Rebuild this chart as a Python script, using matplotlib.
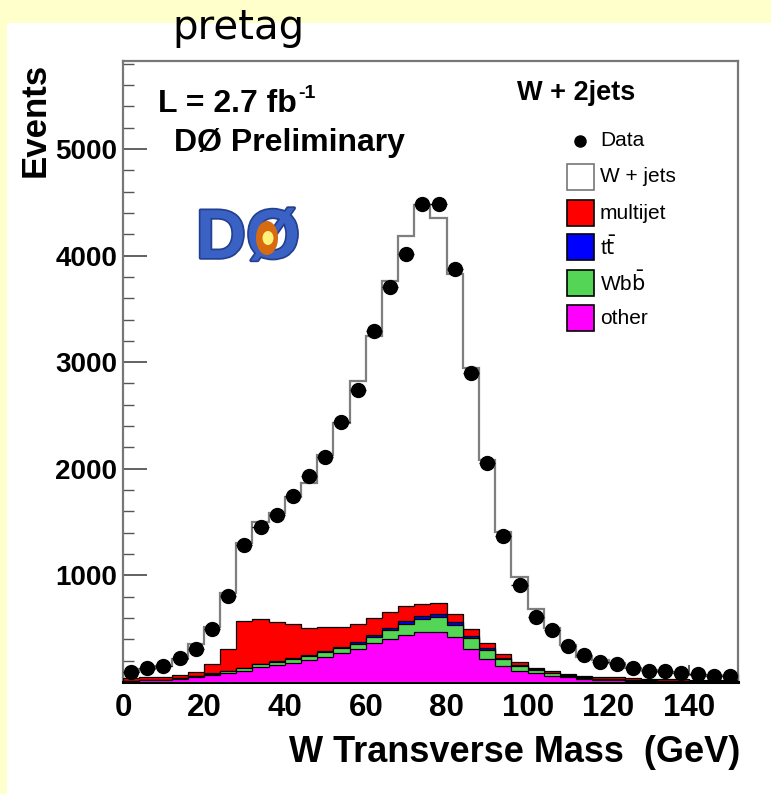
import numpy as np
import matplotlib
matplotlib.use("Agg")
import matplotlib.pyplot as plt
from matplotlib.patches import Rectangle, Ellipse
import matplotlib.patheffects as pe

# 4 GeV bins from 0 to 152 GeV
bin_edges = np.arange(0, 153, 4)

data_counts = [97, 134, 150, 222, 312, 497, 810, 1285, 1454, 1567, 1745, 1932, 2110,
               2439, 2739, 3290, 3708, 4012, 4484, 4484, 3872, 2900, 2054, 1370, 912,
               608, 488, 341, 256, 190, 169, 131, 106, 106, 87, 72, 59, 56]

other = [12, 15, 19, 31, 44, 66, 81, 103, 138, 159, 181, 206, 237, 269, 306, 363, 400,
         441, 472, 472, 425, 306, 216, 150, 103, 81, 59, 44, 31, 22, 17, 13, 10, 8, 7,
         6, 5, 4]
wbb = [2, 3, 4, 5, 8, 12, 19, 28, 30, 32, 35, 40, 43, 47, 55, 58, 85, 105, 122, 138,
       112, 108, 88, 66, 47, 32, 22, 14, 11, 8, 6, 5, 4, 3, 2, 2, 2, 2]
ttbar = [0, 0, 0, 1, 1, 2, 3, 4, 5, 6, 7, 8, 10, 12, 14, 18, 22, 26, 28, 30, 28, 22, 16,
         11, 8, 5, 4, 3, 2, 2, 1, 1, 1, 1, 0, 0, 0, 0]
multijet = [20, 26, 27, 29, 44, 89, 207, 437, 418, 363, 321, 256, 229, 191, 166, 158,
            153, 141, 110, 98, 70, 61, 43, 33, 27, 16, 18, 11, 15, 12, 26, 15, 15, 16,
            16, 14, 13, 12]
wjets = [56, 76, 100, 154, 259, 350, 522, 728, 909, 1025, 1191, 1357, 1611, 1911, 2283,
         2652, 3102, 3471, 3743, 3618, 3189, 2452, 1720, 1147, 803, 548, 401, 275, 178,
         162, 128, 97, 82, 69, 59, 48, 40, 37]

x_ticks = [0, 20, 40, 60, 80, 100, 120, 140]
y_ticks = [1000, 2000, 3000, 4000, 5000]

legend_labels = ["Data", "W + jets", "multijet", r"t$\bar{\rm t}$", r"Wb$\bar{\rm b}$",
                 "other"]
legend_colors = [None, "white", "#ff0000", "#0000ff", "#55d555", "#ff00ff"]

W, H = 771, 794
BOLD = dict(family="Liberation Sans", fontweight="bold")


def fy(py):
    return 1 - py / H


fig = plt.figure(figsize=(W / 100, H / 100), dpi=100)
fig.patch.set_facecolor("#ffffcc")
fig.add_artist(Rectangle((7 / W, 0), 1 - 7 / W, 1 - 23 / H, transform=fig.transFigure,
                         facecolor="white", edgecolor="none", zorder=0))

fig.text(238 / W, fy(38.5), "pretag", ha="center", va="baseline", fontsize=29,
         family="DejaVu Sans", color="black")

ax = fig.add_axes([123 / W, fy(682), (738 - 123) / W, (682 - 61) / H])
ax.set_facecolor("white")

# stacked backgrounds, drawn tallest first so each lower layer sits on top
s_other = np.array(other, float)
s_wbb = s_other + np.array(wbb)
s_tt = s_wbb + np.array(ttbar)
s_mj = s_tt + np.array(multijet)
s_wj = s_mj + np.array(wjets)

ax.stairs(s_wj, bin_edges, fill=True, facecolor="white", edgecolor="none", zorder=2)
ax.stairs(s_wj, bin_edges, fill=False, edgecolor="#7f7f7f", linewidth=1.6, zorder=2.1)
for top, col in [(s_mj, legend_colors[2]), (s_tt, legend_colors[3]),
                 (s_wbb, legend_colors[4]), (s_other, legend_colors[5])]:
    ax.stairs(top, bin_edges, fill=True, facecolor=col, edgecolor="black",
              linewidth=0.9, zorder=3)

centers = 0.5 * (bin_edges[:-1] + bin_edges[1:])
d = np.array(data_counts, float)
ax.errorbar(centers, d, xerr=2, yerr=np.sqrt(d), fmt="o", color="black",
            markersize=10, elinewidth=1.0, capsize=0, zorder=5)

ax.set_xlim(0, 152)
ax.set_ylim(0, 5825)
ax.set_xticks(x_ticks)
ax.set_xticks(np.arange(0, 153, 4), minor=True)
ax.set_yticks(y_ticks)
ax.set_yticks(np.arange(200, 5825, 200), minor=True)
ax.tick_params(axis="both", which="both", direction="in", colors="#555555",
               labelcolor="black")
ax.tick_params(axis="y", which="major", length=17, width=1.3, pad=4)
ax.tick_params(axis="y", which="minor", length=8, width=1.0)
ax.tick_params(axis="x", which="major", length=12, width=1.3, pad=8)
ax.tick_params(axis="x", which="minor", length=6, width=1.0)
for lab in ax.get_xticklabels():
    lab.set_fontfamily("Liberation Sans")
    lab.set_fontweight("bold")
    lab.set_fontsize(22.5)
for lab in ax.get_yticklabels():
    lab.set_fontfamily("Liberation Sans")
    lab.set_fontweight("bold")
    lab.set_fontsize(20)
for side in ["left", "top", "right"]:
    ax.spines[side].set_color("#777777")
    ax.spines[side].set_linewidth(1.6)
ax.spines["bottom"].set_color("black")
ax.spines["bottom"].set_linewidth(2.2)

fig.text(35 / W, fy(120), "Events", rotation=90, ha="center", va="center",
         fontsize=25, **BOLD)
fig.text(740 / W, fy(752), "W Transverse Mass  (GeV)", ha="right", va="center",
         fontsize=26, **BOLD)

# luminosity label with a small raised exponent
lum = fig.text(158 / W, fy(112), "L = 2.7 fb", ha="left", va="baseline",
               fontsize=23, **BOLD)
fig.canvas.draw()
bb = lum.get_window_extent(renderer=fig.canvas.get_renderer())
fig.text(bb.x1 / W + 1 / W, fy(98), "-1", ha="left", va="baseline", fontsize=14,
         **BOLD)
fig.text(174 / W, fy(143), "DØ Preliminary", ha="left", va="center",
         fontsize=23, **BOLD)
fig.text(517 / W, fy(93), "W + 2jets", ha="left", va="center", fontsize=19.5, **BOLD)

# legend
row_y = [141, 177, 213, 247, 283, 318]
for lbl, col, yy in zip(legend_labels, legend_colors, row_y):
    yf = fy(yy)
    if col is None:
        fig.add_artist(plt.Line2D([580 / W], [yf], marker="o", markersize=8,
                                  color="black", transform=fig.transFigure))
    else:
        ec = "#777777" if col == "white" else "black"
        fig.add_artist(Rectangle((567 / W, yf - 13 / H), 27 / W, 26 / H,
                                 transform=fig.transFigure, facecolor=col,
                                 edgecolor=ec, linewidth=1.2))
    fig.text(600 / W, yf, lbl, ha="left", va="center", fontsize=15,
             family="Liberation Sans")

# DØ logo
fig.text(248 / W, fy(240), "DØ", ha="center", va="center", fontsize=50,
         fontweight="bold", family="Liberation Sans", color="#3a62c4", zorder=3.9,
         path_effects=[pe.withStroke(linewidth=2.5, foreground="#23408f")])
fig.add_artist(Ellipse((267 / W, fy(238)), 22 / W, 34 / H, transform=fig.transFigure,
                       facecolor="#d86a10", edgecolor="none", zorder=4))
fig.add_artist(Ellipse((268 / W, fy(238)), 11 / W, 14 / H, transform=fig.transFigure,
                       facecolor="#fff27a", edgecolor="none", zorder=4.1))

fig.savefig("out.png", dpi=100, facecolor=fig.get_facecolor())
